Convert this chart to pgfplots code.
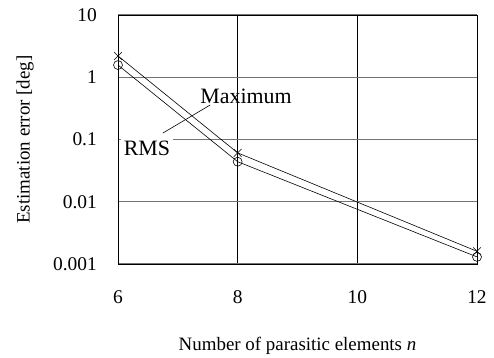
\documentclass[border=0pt]{standalone}
\usepackage{fontspec}
\setmainfont{Liberation Serif}
\usepackage{pgfplots}
\pgfplotsset{compat=1.18}
\begin{document}
\begin{tikzpicture}
\path[use as bounding box] (-118bp,-94bp) rectangle (376bp,264bp);
\begin{axis}[
  scale only axis,
  width=359bp, height=249bp,
  ymode=log,
  xmin=6, xmax=12, ymin=0.001, ymax=10,
  xtick={6,8,10,12}, xticklabels={6,8,10,12},
  ytick={0.001,0.01,0.1,1,10}, yticklabels={0.001,0.01,0.1,1,10},
  minor tick num=0, yminorticks=false,
  tick style={draw=none},
  xmajorgrids, ymajorgrids,
  x grid style={black, line width=0.6pt},
  y grid style={black!55, line width=1.1pt},
  axis line style={black, line width=0.9pt},
  every tick label/.append style={font=\fontsize{19.5}{23}\selectfont, inner sep=0pt},
  yticklabel style={anchor=east, xshift=-21bp},
  xticklabel style={anchor=north, yshift=-26bp},
  label style={font=\fontsize{19}{23}\selectfont},
  xlabel={Number of parasitic elements \textit{n}},
  ylabel={Estimation error [deg]},
  xlabel style={at={(axis description cs:0.5,-0.293)}, anchor=north, inner sep=0pt},
  ylabel style={at={(axis description cs:-0.259,0.5)}, anchor=center, inner sep=0pt},
  clip=false,
]
\addplot[black, line width=0.6pt, mark=x, mark size=5.5pt, mark options={line width=0.6pt}]
  coordinates {(6,2.2) (8,0.061) (12,0.0016)};
\addplot[black, line width=0.6pt, mark=o, mark size=4.5pt, mark options={line width=0.6pt}]
  coordinates {(6,1.57) (8,0.044) (12,0.0013)};
\draw[black, line width=0.6pt] (axis cs:7.54,0.358) -- (axis cs:6.75,0.127);
\node[font=\fontsize{22}{26}\selectfont, inner sep=1pt] at (axis cs:8.14,0.50) {Maximum};
\node[font=\fontsize{22}{26}\selectfont, fill=white, inner xsep=3pt, inner ysep=2pt] at (axis cs:6.485,0.0716) {RMS};
\end{axis}
\end{tikzpicture}
\end{document}
